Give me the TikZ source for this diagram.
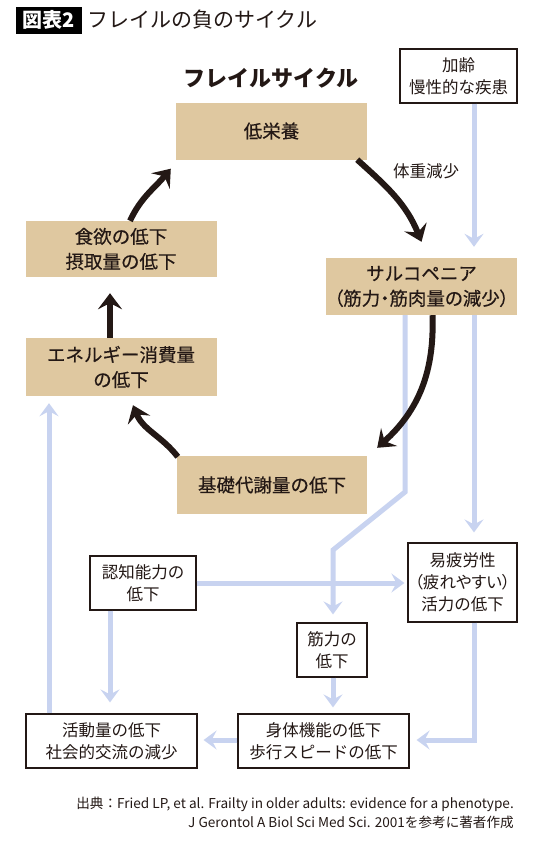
\documentclass[tikz,border=0pt]{standalone}
\usepackage{fontspec}
\setmainfont{Noto Sans CJK JP}
\newfontfamily\medfont[FakeBold=0.4]{Noto Sans CJK JP}
\newfontfamily\medpaltfont[FakeBold=0.4,RawFeature=+palt]{Noto Sans CJK JP}
\newfontfamily\paltfont[RawFeature=+palt]{Noto Sans CJK JP}
\usetikzlibrary{arrows.meta}
\definecolor{tanfill}{HTML}{DFC8A0}
\definecolor{lblue}{HTML}{C8D3F0}
\definecolor{ink}{HTML}{231815}
\begin{document}
\begin{tikzpicture}[x=1pt,y=-1pt,
 tanbox/.style={fill=tanfill, align=center, inner sep=0pt, text=ink, font=\medfont\fontsize{18.5}{25}\selectfont},
 wbox/.style={fill=white, draw=ink, line width=1.2pt, align=center, inner sep=0pt, text=ink, font=\fontsize{16.5}{22}\selectfont},
 barrow/.style={draw=ink, line width=6pt, -{Stealth[length=16pt,width=24pt,inset=6pt]}},
 larrow/.style={draw=lblue, line width=5pt, -{Stealth[length=13pt,width=19pt,inset=5pt]}},
]
\useasboundingbox[fill=white] (0,0) rectangle (540,855);

% title
\node[fill=black, text=white, font=\bfseries\fontsize{20}{20}\selectfont, minimum width=66pt, minimum height=27pt, inner sep=0pt] (tag) at (49,20) {図表2};
\node[anchor=west, text=ink, font=\fontsize{21}{21}\selectfont, inner sep=0pt] (title) at (87,20) {フレイルの負のサイクル};
\node[text=ink, font=\bfseries\fontsize{22}{22}\selectfont, inner sep=0pt] (cycle) at (271,78) {フレイルサイクル};

% tan boxes
\node[tanbox, minimum width=191pt, minimum height=57pt] (low) at (271.5,131) {低栄養};
\node[tanbox, minimum width=191pt, minimum height=56pt] (app) at (121,249) {食欲の低下\\摂取量の低下};
\node[tanbox, minimum width=191pt, minimum height=57pt] (sarco) at (421.5,286.5) {サルコペニア\\{\medpaltfont （筋力・筋肉量の減少）}};
\node[tanbox, minimum width=191pt, minimum height=58pt] (energy) at (121,367) {エネルギー消費量\\の低下};
\node[tanbox, minimum width=190pt, minimum height=58pt] (basal) at (272,485) {基礎代謝量の低下};

% white boxes
\node[wbox, minimum width=117pt, minimum height=54pt] (aging) at (458.5,76) {加齢\\慢性的な疾患};
\node[wbox, minimum width=106pt, minimum height=54pt] (cog) at (143,583) {認知能力の\\低下};
\node[wbox, minimum width=109pt, minimum height=79pt] (fatig) at (462.5,582.5) {易疲労性\\{\paltfont （疲れやすい）}\\活力の低下};
\node[wbox, minimum width=70pt, minimum height=54pt] (musc) at (332,650) {筋力の\\低下};
\node[wbox, minimum width=171pt, minimum height=54pt] (phys) at (323.5,741) {身体機能の低下\\歩行スピードの低下};
\node[wbox, minimum width=171pt, minimum height=54pt] (act) at (111.5,741) {活動量の低下\\社会的交流の減少};

\coordinate (rx) at (474,0);
\coordinate (mx) at (405,0);
\coordinate (kx) at (333,0);
\coordinate (bend1) at (405,492);
\coordinate (bend2) at (333,550);
\coordinate (corner) at (474,740);

% light blue connectors
\draw[larrow] (aging.south -| rx) -- ([yshift=11pt]sarco.north -| rx);
\draw[larrow] (sarco.south -| rx) -- ([yshift=10pt]fatig.north -| rx);
\draw[larrow, line join=miter] (sarco.south -| mx) -- (bend1) -- (bend2) -- ([yshift=8pt]musc.north -| kx);
\draw[larrow] (cog.east |- 0,583) -- ([xshift=-3pt]fatig.west |- 0,583);
\draw[larrow] (musc.south -| kx) -- ([yshift=6pt]phys.north -| kx);
\draw[larrow, line join=miter] (fatig.south -| rx) -- (corner) -- ([xshift=7pt]phys.east |- corner);
\draw[larrow] (phys.west |- corner) -- ([xshift=6pt]act.east |- corner);
\draw[larrow] (cog.south -| 110,0) -- ([yshift=11pt]act.north -| 110,0);
\draw[larrow] (act.north -| 49,0) -- ([yshift=-7pt]energy.south -| 49,0);

% black cycle arrows
\draw[barrow] ([xshift=-10pt]low.south east) to[out=-42,in=112] ([yshift=16pt]sarco.north);
\draw[barrow] ([xshift=11pt]sarco.south) to[out=-88,in=42] ([xshift=10pt,yshift=8pt]basal.north east);
\draw[barrow] ([xshift=1pt,yshift=-1pt]basal.north west) to[out=128,in=-68] ([xshift=12pt,yshift=-9pt]energy.south);
\draw[barrow] ([xshift=-11pt]energy.north) -- ([xshift=-11pt,yshift=-16pt]app.south);
\draw[barrow] ([xshift=9pt]app.north) to[out=65,in=-130] ([xshift=-5pt,yshift=-9pt]low.south west);

\node[anchor=west, text=ink, font=\fontsize{16.5}{16.5}\selectfont, inner sep=0pt] (wl) at (393,171) {体重減少};

% source
\node[anchor=east, align=right, text=ink, font=\fontsize{13.6}{19}\selectfont, inner sep=0pt] (src) at (514,812.5) {出典：Fried LP, et al. Frailty in older adults: evidence for a phenotype.\\J Gerontol A Biol Sci Med Sci. 2001を参考に著者作成};
\end{tikzpicture}
\end{document}
